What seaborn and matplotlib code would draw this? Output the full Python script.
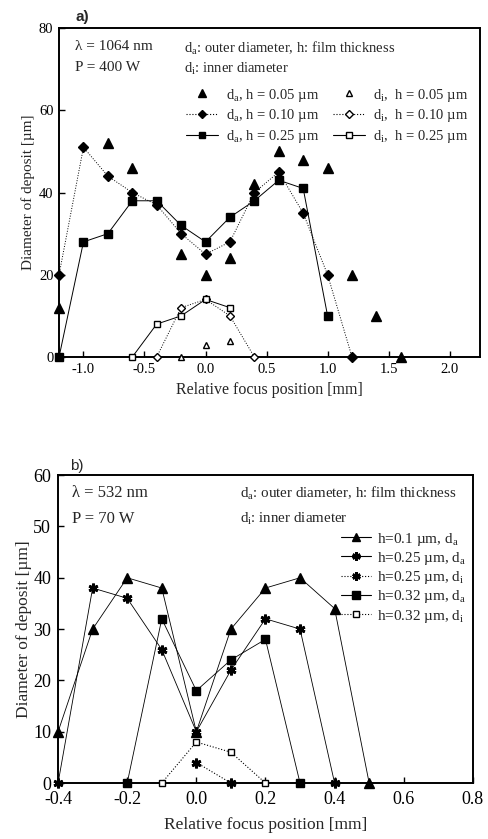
import numpy as np
import pandas as pd
import matplotlib
matplotlib.use("Agg")
import matplotlib.pyplot as plt
import seaborn as sns
from matplotlib.lines import Line2D

sns.set_theme(style="ticks")
plt.rcParams['font.family'] = ['Liberation Serif', 'DejaVu Serif']
plt.rcParams['mathtext.fontset'] = 'custom'
plt.rcParams['mathtext.rm'] = 'Liberation Serif'
plt.rcParams['mathtext.it'] = 'Liberation Serif:italic'

# ---------------- Panel a data (lambda = 1064 nm) ----------------
a_da005_x = [-1.2, -0.8, -0.6, -0.2, 0.0, 0.2, 0.4, 0.6, 0.8, 1.0, 1.2, 1.4, 1.6]
a_da005_y = [12, 52, 46, 25, 20, 24, 42, 50, 48, 46, 20, 10, 0]
a_da010_x = [-1.2, -1.0, -0.8, -0.6, -0.4, -0.2, 0.0, 0.2, 0.4, 0.6, 0.8, 1.0, 1.2]
a_da010_y = [20, 51, 44, 40, 37, 30, 25, 28, 40, 45, 35, 20, 0]
a_da025_x = [-1.2, -1.0, -0.8, -0.6, -0.4, -0.2, 0.0, 0.2, 0.4, 0.6, 0.8, 1.0]
a_da025_y = [0, 28, 30, 38, 38, 32, 28, 34, 38, 43, 41, 10]
a_di005_x = [-0.2, 0.0, 0.2]
a_di005_y = [0, 3, 4]
a_di010_x = [-0.4, -0.2, 0.0, 0.2, 0.4]
a_di010_y = [0, 12, 14, 10, 0]
a_di025_x = [-0.6, -0.4, -0.2, 0.0, 0.2]
a_di025_y = [0, 8, 10, 14, 12]

# ---------------- Panel b data (lambda = 532 nm) ----------------
b_h01_da_x = [-0.4, -0.3, -0.2, -0.1, 0.0, 0.1, 0.2, 0.3, 0.4, 0.5]
b_h01_da_y = [10, 30, 40, 38, 10, 30, 38, 40, 34, 0]
b_h025_da_x = [-0.4, -0.3, -0.2, -0.1, 0.0, 0.1, 0.2, 0.3, 0.4]
b_h025_da_y = [0, 38, 36, 26, 10, 22, 32, 30, 0]
b_h025_di_x = [0.0, 0.1]
b_h025_di_y = [4, 0]
b_h032_da_x = [-0.2, -0.1, 0.0, 0.1, 0.2, 0.3]
b_h032_da_y = [0, 32, 18, 24, 28, 0]
b_h032_di_x = [-0.1, 0.0, 0.1, 0.2]
b_h032_di_y = [0, 8, 6, 0]

fig = plt.figure(figsize=(4.88, 8.39), dpi=100)
fig.patch.set_facecolor('white')

ax1 = fig.add_axes([0.121, 0.5745, 0.863, 0.392])
ax2 = fig.add_axes([0.119, 0.0667, 0.850, 0.367])

K = 'black'

def line(ax, x, y, marker, ls, mfc, ms=6, lw=0.7, mew=1.0):
    df = pd.DataFrame({'x': x, 'y': y})
    sns.lineplot(data=df, x='x', y='y', ax=ax, sort=False, estimator=None,
                 color=K, linestyle=ls, linewidth=lw, marker=marker,
                 markersize=ms, markerfacecolor=mfc, markeredgecolor=K,
                 markeredgewidth=mew, clip_on=False, zorder=3)

def scat(ax, x, y, marker, mfc, ms=6, mew=1.0):
    df = pd.DataFrame({'x': x, 'y': y})
    sns.lineplot(data=df, x='x', y='y', ax=ax, sort=False, estimator=None,
                 color=K, linestyle='none', marker=marker, markersize=ms,
                 markerfacecolor=mfc, markeredgecolor=K, markeredgewidth=mew,
                 clip_on=False, zorder=3)

# ---------- Panel a ----------
scat(ax1, a_da005_x, a_da005_y, '^', K, ms=6.5)
line(ax1, a_da010_x, a_da010_y, 'D', ':', K, ms=5)
line(ax1, a_da025_x, a_da025_y, 's', '-', K, ms=5.5)
scat(ax1, a_di005_x, a_di005_y, '^', 'white', ms=5)
line(ax1, a_di010_x, a_di010_y, 'D', ':', 'white', ms=4.5)
line(ax1, a_di025_x, a_di025_y, 's', '-', 'white', ms=4.5)

ax1.set_xlim(-1.2, 2.25)
ax1.set_ylim(0, 80)
ax1.set_xticks([-1.0, -0.5, 0.0, 0.5, 1.0, 1.5, 2.0])
ax1.set_xticklabels(['-1.0', '-0.5', '0.0', '0.5', '1.0', '1.5', '2.0'])
ax1.set_yticks([0, 20, 40, 60, 80])
ax1.set_xlabel('Relative focus position [mm]', fontsize=11.5, labelpad=5)
ax1.set_ylabel('Diameter of deposit [µm]', fontsize=11, labelpad=3)
ax1.tick_params(direction='in', length=4, width=1.0, labelsize=10.5, pad=4)

ax1.text(0.04, 1.012, 'a)', transform=ax1.transAxes, fontsize=11,
         fontweight='bold', family='Liberation Sans', va='bottom')
ax1.text(-1.07, 75.5, 'λ = 1064 nm', fontsize=11, va='center')
ax1.text(-1.07, 70.5, 'P = 400 W', fontsize=11, va='center')
ax1.text(-0.18, 75.0, r'd$_\mathrm{a}$: outer diameter, h: film thickness', fontsize=10.5, va='center')
ax1.text(-0.18, 70.0, r'd$_\mathrm{i}$: inner diameter', fontsize=10.5, va='center')

hA = [
    Line2D([], [], color=K, ls='none', marker='^', ms=6, mfc=K),
    Line2D([], [], color=K, ls=':', lw=0.8, marker='D', ms=4.5, mfc=K),
    Line2D([], [], color=K, ls='-', lw=0.8, marker='s', ms=5, mfc=K),
    Line2D([], [], color=K, ls='none', marker='^', ms=5, mfc='white'),
    Line2D([], [], color=K, ls=':', lw=0.8, marker='D', ms=4, mfc='white'),
    Line2D([], [], color=K, ls='-', lw=0.8, marker='s', ms=4, mfc='white'),
]
lA = [r'd$_\mathrm{a}$, h = 0.05 µm', r'd$_\mathrm{a}$, h = 0.10 µm', r'd$_\mathrm{a}$, h = 0.25 µm',
      r'd$_\mathrm{i}$,  h = 0.05 µm', r'd$_\mathrm{i}$,  h = 0.10 µm', r'd$_\mathrm{i}$,  h = 0.25 µm']
ax1.legend(hA, lA, ncol=2, loc='upper right', bbox_to_anchor=(0.985, 0.84),
           frameon=False, fontsize=10.5, handlelength=2.2, handletextpad=0.5,
           columnspacing=1.0, labelspacing=0.25, borderaxespad=0)

# ---------- Panel b ----------
line(ax2, b_h01_da_x, b_h01_da_y, '^', '-', K, ms=6.5, lw=0.6)
line(ax2, b_h025_da_x, b_h025_da_y, (6, 2, 0), '-', K, ms=7, lw=0.6, mew=2.0)
line(ax2, b_h025_di_x, b_h025_di_y, (6, 2, 0), ':', K, ms=7, lw=0.8, mew=2.0)
line(ax2, b_h032_da_x, b_h032_da_y, 's', '-', K, ms=6, lw=0.6)
line(ax2, b_h032_di_x, b_h032_di_y, 's', ':', 'white', ms=5, lw=0.8)

ax2.set_xlim(-0.4, 0.8)
ax2.set_ylim(0, 60)
ax2.set_xticks([-0.4, -0.2, 0.0, 0.2, 0.4, 0.6, 0.8])
ax2.set_xticklabels(['-0.4', '-0.2', '0.0', '0.2', '0.4', '0.6', '0.8'])
ax2.set_yticks([0, 10, 20, 30, 40, 50, 60])
ax2.set_xlabel('Relative focus position [mm]', fontsize=12.5, labelpad=6)
ax2.set_ylabel('Diameter of deposit [µm]', fontsize=12.5, labelpad=1)
ax2.tick_params(axis='x', direction='in', length=4, width=1.0, labelsize=13, pad=6)
ax2.tick_params(axis='y', direction='in', length=4, width=1.0, labelsize=13, pad=5)

ax2.text(0.03, 1.008, 'b)', transform=ax2.transAxes, fontsize=11,
         family='Liberation Sans', va='bottom')
ax2.text(-0.36, 56.5, 'λ = 532 nm', fontsize=12, va='center')
ax2.text(-0.36, 51.5, 'P = 70 W', fontsize=12, va='center')
ax2.text(0.125, 56.5, r'd$_\mathrm{a}$: outer diameter, h: film thickness', fontsize=10.8, va='center')
ax2.text(0.125, 51.5, r'd$_\mathrm{i}$: inner diameter', fontsize=10.8, va='center')

hB = [
    Line2D([], [], color=K, ls='-', lw=0.8, marker='^', ms=6, mfc=K),
    Line2D([], [], color=K, ls='-', lw=0.8, marker=(6, 2, 0), ms=6, mew=1.8),
    Line2D([], [], color=K, ls=':', lw=0.8, marker=(6, 2, 0), ms=6, mew=1.8),
    Line2D([], [], color=K, ls='-', lw=0.8, marker='s', ms=5.5, mfc=K),
    Line2D([], [], color=K, ls=':', lw=0.8, marker='s', ms=4.5, mfc='white'),
]
lB = [r'h=0.1 µm, d$_\mathrm{a}$', r'h=0.25 µm, d$_\mathrm{a}$', r'h=0.25 µm, d$_\mathrm{i}$',
      r'h=0.32 µm, d$_\mathrm{a}$', r'h=0.32 µm, d$_\mathrm{i}$']
ax2.legend(hB, lB, loc='upper right', bbox_to_anchor=(1.0, 0.84),
           frameon=False, fontsize=11, handlelength=2.0, handletextpad=0.4,
           labelspacing=0.15, borderaxespad=0)

for ax in (ax1, ax2):
    for s in ax.spines.values():
        s.set_linewidth(1.4)
        s.set_color(K)
    ax.tick_params(colors=K, labelcolor=K)

fig.savefig('out.png', dpi=100, facecolor='white')
